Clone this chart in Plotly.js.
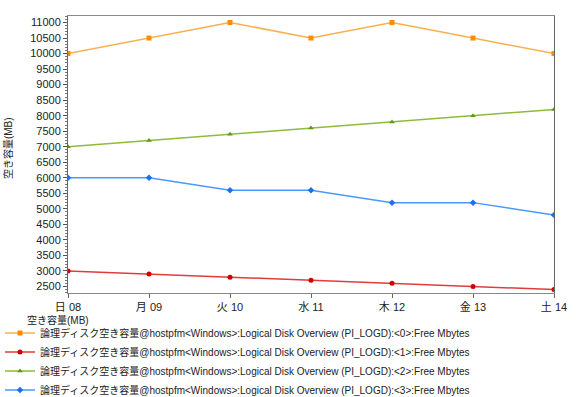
<!DOCTYPE html>
<html><head><meta charset="utf-8">
<script src="https://cdn.plot.ly/plotly-3.0.1.min.js"></script>
<style>html,body{margin:0;padding:0;background:#fff}</style>
</head><body>
<div id="chart" style="width:585px;height:397px"></div>
<script>
const categories = ["日 08", "月 09", "火 10", "水 11", "木 12", "金 13", "土 14"];
const seriesNames = [
  "論理ディスク空き容量@hostpfm<Windows>:Logical Disk Overview (PI_LOGD):<0>:Free Mbytes",
  "論理ディスク空き容量@hostpfm<Windows>:Logical Disk Overview (PI_LOGD):<1>:Free Mbytes",
  "論理ディスク空き容量@hostpfm<Windows>:Logical Disk Overview (PI_LOGD):<2>:Free Mbytes",
  "論理ディスク空き容量@hostpfm<Windows>:Logical Disk Overview (PI_LOGD):<3>:Free Mbytes"
];
const disk0 = [10000, 10500, 11000, 10500, 11000, 10500, 10000];
const disk1 = [3000, 2900, 2800, 2700, 2600, 2500, 2400];
const disk2 = [7000, 7200, 7400, 7600, 7800, 8000, 8200];
const disk3 = [6000, 6000, 5600, 5600, 5200, 5200, 4800];
const yTitle = "空き容量(MB)";
const legendTitle = "空き容量(MB)";

const series = [disk0, disk1, disk2, disk3];
const lineColors = ["#F9B050", "#E03C3C", "#8DBB3A", "#4B98FF"];
const markerColors = ["#FF8C00", "#D00000", "#5E9A10", "#1A70F0"];
const symbols = ["square", "circle", "triangle-up", "diamond"];

const traces = series.map((s, i) => ({
  x: categories, y: s, name: seriesNames[i], type: "scatter", mode: "lines+markers",
  line: {color: lineColors[i], width: 1.5},
  marker: {color: markerColors[i], symbol: symbols[i], size: 5}
}));

const font = {family: "Liberation Sans, 'Noto Sans CJK JP', sans-serif", size: 11, color: "#222"};
const layout = {
  width: 585, height: 397,
  margin: {l: 68, r: 31, t: 16, b: 104, autoexpand: false},
  paper_bgcolor: "#fff", plot_bgcolor: "#fff",
  font: font,
  showlegend: true,
  xaxis: {
    type: "category", range: [0, 6], showgrid: false, zeroline: false,
    showline: true, linecolor: "#888", linewidth: 1, mirror: true,
    ticks: "outside", ticklen: 4, tickcolor: "#666",
    tickfont: {size: 11, color: "#222"}, automargin: false
  },
  yaxis: {
    range: [2290, 11210], dtick: 500, tick0: 0, tickformat: "d", showgrid: false, zeroline: false,
    showline: true, linecolor: "#666", linewidth: 1, mirror: true,
    ticks: "outside", ticklen: 4, tickcolor: "#555",
    tickfont: {size: 11, color: "#222"}, automargin: false,
    minor: {dtick: 100, ticks: "outside", ticklen: 2, tickcolor: "#777", showgrid: false}
  },
  legend: {
    xref: "container", yref: "container", x: 0.0, y: 0.1975, xanchor: "left", yanchor: "top",
    orientation: "v", font: {size: 10, color: "#222"}, itemwidth: 30, tracegroupgap: 0,
    bgcolor: "rgba(0,0,0,0)"
  },
  annotations: [
    {
      xref: "paper", yref: "paper", x: -0.088, y: -0.0686, xanchor: "left", yanchor: "top",
      text: legendTitle, showarrow: false, font: {size: 10, color: "#222"}
    },
    {
      xref: "paper", yref: "paper", x: -0.1235, y: 0.523, xanchor: "center", yanchor: "middle",
      textangle: -90, text: yTitle, showarrow: false, font: {size: 10, color: "#222"}
    }
  ]
};
Plotly.newPlot("chart", traces, layout, {displayModeBar: false, staticPlot: true});
</script>
</body></html>
